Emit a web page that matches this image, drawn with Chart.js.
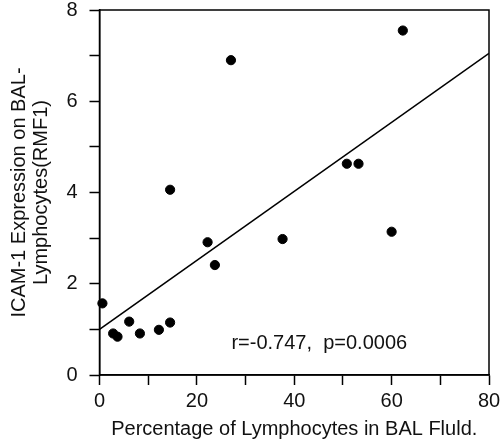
<!DOCTYPE html>
<html>
<head>
<meta charset="utf-8">
<script src="https://cdn.jsdelivr.net/npm/chart.js@4"></script>
<style>
  html, body { margin: 0; padding: 0; background: #fff; }
  #wrap { width: 500px; height: 441px; }
</style>
</head>
<body>
<div id="wrap"><canvas id="myChart"></canvas></div>
<script>
// values
const lymphPct = [0.6, 2.8, 3.7, 6.1, 8.3, 12.2, 14.5, 14.5, 22.2, 23.7, 27.0, 37.6, 50.8, 53.2, 60.0, 62.3];
const icamExpr = [1.57, 0.91, 0.84, 1.17, 0.91, 0.99, 1.15, 4.06, 2.91, 2.41, 6.90, 2.98, 4.63, 4.63, 3.14, 7.55];

// regression line end points
const fitX = [0, 80];
const fitY = [1.0, 7.05];

const statsText = "r=-0.747,  p=0.0006";
const xTitle = "Percentage of Lymphocytes in BAL Fluld.";
const yTitle = ["ICAM-1 Expression on BAL-", "Lymphocytes(RMF1)"];

const FONT = "'Liberation Sans', Arial, sans-serif";

const toPoints = (xs, ys) => xs.map((x, i) => ({ x: x, y: ys[i] }));

// box around the plot + the r/p note
const framePlugin = {
    id: 'frame',
    afterDatasetsDraw(chart) {
        const { ctx, chartArea, scales } = chart;
        ctx.save();
        ctx.strokeStyle = '#000';
        ctx.lineWidth = 1.5;
        ctx.strokeRect(chartArea.left, chartArea.top, chartArea.right - chartArea.left, chartArea.bottom - chartArea.top);

        ctx.fillStyle = '#111';
        ctx.font = "20px " + FONT;
        ctx.textAlign = 'left';
        ctx.textBaseline = 'middle';
        ctx.fillText(statsText, scales.x.getPixelForValue(27.1), scales.y.getPixelForValue(0.68));
        ctx.restore();
    }
};

const ctx = document.getElementById('myChart').getContext('2d');

const myChart = new Chart(ctx, {
    type: 'scatter',
    data: {
        datasets: [
            {
                data: toPoints(lymphPct, icamExpr),
                backgroundColor: '#000',
                borderColor: '#000',
                pointRadius: 4.6,
                pointHoverRadius: 4.6,
                clip: false
            },
            {
                type: 'line',
                data: toPoints(fitX, fitY),
                borderColor: '#000',
                borderWidth: 1.6,
                pointRadius: 0,
                fill: false
            }
        ]
    },
    options: {
        responsive: true,
        maintainAspectRatio: false,
        animation: false,
        events: [],
        layout: { padding: { top: 10, right: 11, left: 0, bottom: 0 } },
        plugins: {
            legend: { display: false },
            tooltip: { enabled: false }
        },
        scales: {
            x: {
                type: 'linear',
                min: 0,
                max: 80,
                afterFit(scale) {
                    scale.height = 66;
                    scale.paddingLeft = 0;
                    scale.paddingRight = 0;
                },
                border: { display: true, color: '#000', width: 1.5 },
                grid: { drawOnChartArea: false, color: '#000', tickLength: 10, tickWidth: 1.5 },
                ticks: {
                    stepSize: 10,
                    autoSkip: false,
                    maxRotation: 0,
                    padding: 4,
                    color: '#111',
                    font: { family: FONT, size: 20 },
                    callback: v => (v % 20 === 0 ? v : '')
                },
                title: {
                    display: true,
                    text: xTitle,
                    color: '#111',
                    font: { family: FONT, size: 20 },
                    padding: { top: 0, bottom: 0 }
                }
            },
            y: {
                type: 'linear',
                min: 0,
                max: 8,
                afterFit(scale) {
                    scale.width = 99.5;
                    scale.paddingTop = 0;
                    scale.paddingBottom = 0;
                },
                border: { display: true, color: '#000', width: 1.5 },
                grid: { drawOnChartArea: false, color: '#000', tickLength: 10, tickWidth: 1.5 },
                ticks: {
                    stepSize: 1,
                    autoSkip: false,
                    padding: 12,
                    color: '#111',
                    font: { family: FONT, size: 20 },
                    callback: v => (v % 2 === 0 ? v : '')
                },
                title: {
                    display: true,
                    text: yTitle,
                    color: '#111',
                    font: { family: FONT, size: 20, lineHeight: 1.1 },
                    padding: { top: 8, bottom: 0 }
                }
            }
        }
    },
    plugins: [framePlugin]
});
</script>
</body>
</html>
